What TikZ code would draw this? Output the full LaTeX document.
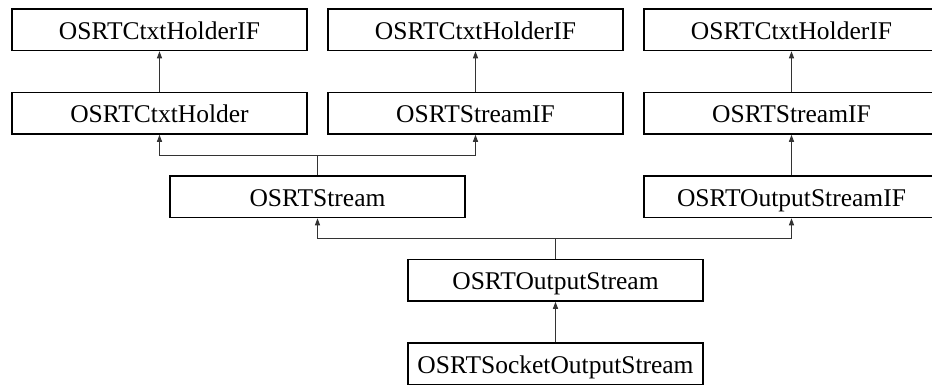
\documentclass[tikz,border=0pt]{standalone}
\usepackage{fontspec}
\setmainfont{Liberation Serif}
\usetikzlibrary{arrows.meta}
\tikzset{
  cls/.style={draw=black, line width=1.5pt, fill=white, rectangle,
    minimum width=295pt, minimum height=41.5pt, inner sep=0pt,
    text height=19pt, text depth=0pt,
    font=\fontsize{25.5pt}{28pt}\selectfont},
  inh/.style={draw=black!80, line width=1pt,
    -{Triangle[length=7pt,width=5pt]}},
  bus/.style={draw=black!80, line width=1pt}
}
\begin{document}
\begin{tikzpicture}[x=1pt,y=-1pt]
\useasboundingbox (0,0) rectangle (932,386);
\clip (0,0) rectangle (932,386);
% top row: base interfaces
\node[cls] (ctxif1) at (159.5,29.75) {OSRTCtxtHolderIF};
\node[cls] (ctxif2) at (475.5,29.75) {OSRTCtxtHolderIF};
\node[cls] (ctxif3) at (791.5,29.75) {OSRTCtxtHolderIF};
% second row
\node[cls] (ctxh)  at (159.5,113.25) {OSRTCtxtHolder};
\node[cls] (sif1)  at (475.5,113.25) {OSRTStreamIF};
\node[cls] (sif2)  at (791.5,113.25) {OSRTStreamIF};
% third row
\node[cls] (strm)  at (317.5,196.75) {OSRTStream};
\node[cls] (osif)  at (791.5,196.75) {OSRTOutputStreamIF};
% lower rows
\node[cls] (ostrm) at (555.5,280.25) {OSRTOutputStream};
\node[cls] (sock)  at (555.5,363.75) {OSRTSocketOutputStream};

% single inheritance
\draw[inh] (ctxh.north) -- (ctxif1.south);
\draw[inh] (sif1.north) -- (ctxif2.south);
\draw[inh] (sif2.north) -- (ctxif3.south);
\draw[inh] (osif.north) -- (sif2.south);
\draw[inh] (sock.north) -- (ostrm.south);

% OSRTStream bus
\coordinate (b1) at (317.5,155);
\draw[bus] (strm.north) -- (b1);
\draw[inh] (b1) -| (ctxh.south);
\draw[inh] (b1) -| (sif1.south);

% OSRTOutputStream bus
\coordinate (b2) at (555.5,238.5);
\draw[bus] (ostrm.north) -- (b2);
\draw[inh] (b2) -| (strm.south);
\draw[inh] (b2) -| (osif.south);
\end{tikzpicture}
\end{document}
